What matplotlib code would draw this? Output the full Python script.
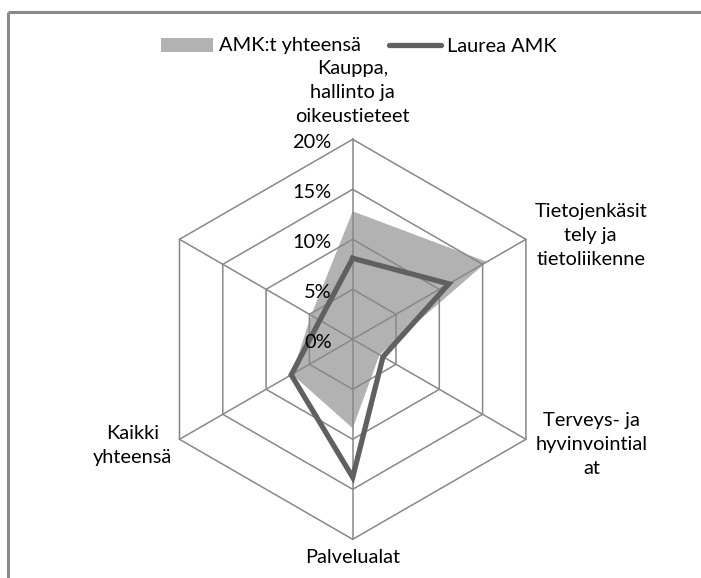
import numpy as np
import matplotlib
matplotlib.use("Agg")
import matplotlib.pyplot as plt
from matplotlib.patches import Patch
from matplotlib.lines import Line2D

plt.rcParams['font.family'] = ['Lato', 'DejaVu Sans']

categories = ["Kauppa,\nhallinto ja\noikeustieteet",
              "Tietojenkäsit\ntely ja\ntietoliikenne",
              "Terveys- ja\nhyvinvointial\nat",
              "Palvelualat",
              "Kaikki\nyhteensä",
              ""]
amk_total = [12.8, 15.5, 3.1, 8.9, 7.0, 4.8]
laurea = [8.1, 11.1, 3.5, 13.8, 7.1, 3.8]
rings = [0, 5, 10, 15, 20]
ring_labels = ["0%", "5%", "10%", "15%", "20%"]

W, H = 701, 578
cx, cy = 352.7, 339.3   # centre of the radar in pixels (from top-left)
scale = 10.0            # pixels per percent
FS = 14.4

fig = plt.figure(figsize=(W / 100, H / 100), dpi=100)
ax = fig.add_axes([0, 0, 1, 1])
ax.set_xlim(-cx / scale, (W - cx) / scale)
ax.set_ylim(-(H - cy) / scale, cy / scale)
ax.axis("off")

n = len(categories)
ang = np.deg2rad(90 - 60 * np.arange(n))


def xy(vals):
    v = np.asarray(vals, dtype=float)
    x = v * np.cos(ang)
    y = v * np.sin(ang)
    return np.append(x, x[0]), np.append(y, y[0])


# outer frame
fx, fy = (8 - cx) / scale, (cy - 12) / scale
ax.plot([fx, 40], [fy, fy], color="#8a8a8a", lw=2.2, solid_capstyle="butt")
ax.plot([fx, fx], [fy, -30], color="#8a8a8a", lw=2.2, solid_capstyle="butt")

# AMK:t yhteensä (filled area)
x, y = xy(amk_total)
ax.fill(x, y, color="#b2b2b2", lw=0, zorder=1)

# grid
gc = "#888888"
for r in rings[1:]:
    gx, gy = xy([r] * n)
    ax.plot(gx, gy, color=gc, lw=1.1, zorder=2)
for a in ang:
    ax.plot([0, 20 * np.cos(a)], [0, 20 * np.sin(a)], color=gc, lw=1.1, zorder=2)

# Laurea AMK (line)
x, y = xy(laurea)
ax.plot(x, y, color="#606060", lw=3.8, solid_joinstyle="miter", zorder=3)

# ring labels
for r, lab in zip(rings, ring_labels):
    ax.text(-2.1, r - 0.3, lab, ha="right", va="center", fontsize=FS, zorder=4)

# category labels
label_pos = [(0, 24.7), (23.8, 10.4), (23.9, -10.5), (0, -21.8), (-22.0, -10.6), (-23.7, 10.3)]
for lab, (lx, ly) in zip(categories, label_pos):
    ax.text(lx, ly, lab, ha="center", va="center", fontsize=FS,
            linespacing=1.5, zorder=4)

handles = [Patch(facecolor="#b2b2b2", edgecolor="none"),
           Line2D([], [], color="#606060", lw=3.8, solid_capstyle="round")]
leg = ax.legend(handles, ["AMK:t yhteensä", "Laurea AMK"], ncol=2,
                loc="center", bbox_to_anchor=(359 / W, 1 - 46 / H),
                bbox_transform=fig.transFigure, frameon=False, fontsize=FS,
                handlelength=2.6, handleheight=0.7, handletextpad=0.3,
                columnspacing=1.4, borderpad=0)

fig.savefig("out.png", dpi=100)
